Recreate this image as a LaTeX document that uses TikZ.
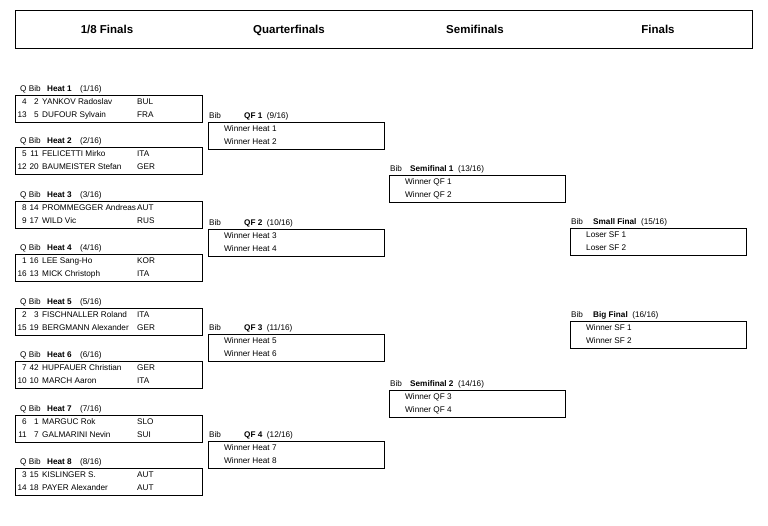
\documentclass[tikz,border=0pt]{standalone}
\usepackage{fontspec}
\setmainfont{Liberation Sans}
\begin{document}
\begin{tikzpicture}[x=1pt,y=-1pt,
  box/.style={draw,line width=0.8pt},
  t/.style={anchor=west,inner sep=0,text height=6pt,text depth=1.5pt,font=\fontsize{8.2}{9}\selectfont},
  r/.style={anchor=east,inner sep=0,text height=6pt,text depth=1.5pt,font=\fontsize{8.2}{9}\selectfont},
  h/.style={inner sep=0,text height=8.5pt,text depth=0pt,font=\fontsize{11.5}{13}\selectfont\bfseries}]
\useasboundingbox (0,0) rectangle (768,526);
\fill[white] (0,0) rectangle (768,526);
\draw[box] (15,10) rectangle (752,48);
\node[h] (h1) at (107,29) {1/8 Finals};
\node[h] (h2) at (289,29) {Quarterfinals};
\node[h] (h3) at (475,29) {Semifinals};
\node[h] (h4) at (658,29) {Finals};
% heats
\foreach \n/\y/\qa/\ba/\na/\ca/\qb/\bb/\nb/\cb in {
 1/89/4/2/YANKOV Radoslav/BUL/13/5/DUFOUR Sylvain/FRA,
 2/141/5/11/FELICETTI Mirko/ITA/12/20/BAUMEISTER Stefan/GER,
 3/195/8/14/PROMMEGGER Andreas/AUT/9/17/WILD Vic/RUS,
 4/248/1/16/LEE Sang-Ho/KOR/16/13/MICK Christoph/ITA,
 5/302/2/3/FISCHNALLER Roland/ITA/15/19/BERGMANN Alexander/GER,
 6/355/7/42/HUPFAUER Christian/GER/10/10/MARCH Aaron/ITA,
 7/409/6/1/MARGUC Rok/SLO/11/7/GALMARINI Nevin/SUI,
 8/462/3/15/KISLINGER S./AUT/14/18/PAYER Alexander/AUT}{
 \node[t] (hq\n) at (20,\y) {Q Bib};
 \node[t] (hn\n) at (47,\y) {\textbf{Heat \n}};
 \node[t] (hr\n) at (80,\y) {(\n/16)};
 \draw[box] (15,\y+6) rectangle (202,\y+33);
 \node[r] (qa\n) at (27,\y+13) {\qa};
 \node[r] (ba\n) at (39,\y+13) {\ba};
 \node[t] (na\n) at (42,\y+13) {\na};
 \node[t] (ca\n) at (137,\y+13) {\ca};
 \node[r] (qb\n) at (27,\y+26) {\qb};
 \node[r] (bb\n) at (39,\y+26) {\bb};
 \node[t] (nb\n) at (42,\y+26) {\nb};
 \node[t] (cb\n) at (137,\y+26) {\cb};
}
% generic boxes
\foreach \id/\x/\w/\y/\tx/\title/\num/\la/\lb in {
 q1/208/176/116/244/QF 1/(9\slash 16)/Winner Heat 1/Winner Heat 2,
 q2/208/176/223/244/QF 2/(10\slash 16)/Winner Heat 3/Winner Heat 4,
 q3/208/176/328/244/QF 3/(11\slash 16)/Winner Heat 5/Winner Heat 6,
 q4/208/176/435/244/QF 4/(12\slash 16)/Winner Heat 7/Winner Heat 8,
 s1/389/176/169/410/Semifinal 1/(13\slash 16)/Winner QF 1/Winner QF 2,
 s2/389/176/384/410/Semifinal 2/(14\slash 16)/Winner QF 3/Winner QF 4,
 f1/570/176/222/593/Small Final/(15\slash 16)/Loser SF 1/Loser SF 2,
 f2/570/176/315/593/Big Final/(16\slash 16)/Winner SF 1/Winner SF 2}{
 \node[t] (\id b) at (\x+1,\y) {Bib};
 \node[t] (\id t) at (\tx,\y) {\textbf{\title}\ \ \num};
 \draw[box] (\x,\y+6) rectangle (\x+\w,\y+33);
 \node[t] (\id a) at (\x+16,\y+13) {\la};
 \node[t] (\id c) at (\x+16,\y+26) {\lb};
}
\end{tikzpicture}
\end{document}
